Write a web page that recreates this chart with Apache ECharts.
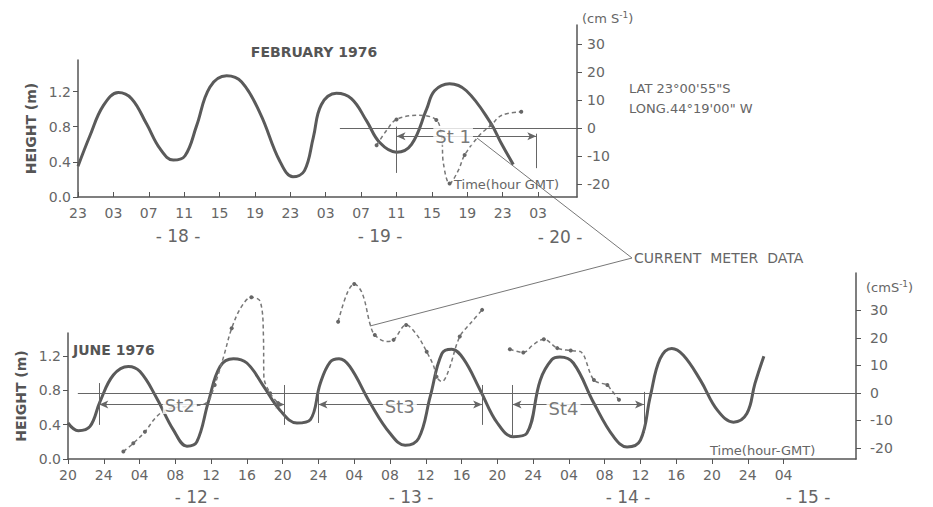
<!DOCTYPE html>
<html><head><meta charset="utf-8">
<script src="https://cdn.jsdelivr.net/npm/echarts@6/dist/echarts.min.js"></script>
<style>html,body{margin:0;padding:0;background:#fff}#c{width:933px;height:507px}</style>
</head><body><div id="c"></div>
<script>
// ---------- DATA (hours since first tick; heights in m; currents in cm/s) ----------
// February 1976 (hour 0 = 23h GMT on the 17th)
const febTickHours = [0,4,8,12,16,20,24,28,32,36,40,44,48,52];
const febTickLabels = ['23','03','07','11','15','19','23','03','07','11','15','19','23','03'];
const febTide = [[0,0.35],[1.36,0.70],[2.86,1.04],[4.56,1.19],[6.06,1.12],[7.76,0.83],[9.27,0.55],[10.77,0.42],[12.1,0.47],[13.4,0.81],[14.9,1.25],[16.8,1.38],[18.5,1.31],[20.6,0.95],[22.8,0.41],[24.3,0.23],[25.6,0.30],[26.6,0.68],[27.5,1.05],[29.2,1.18],[30.9,1.12],[32.6,0.87],[34.1,0.62],[36.0,0.51],[37.7,0.60],[39.4,1.00],[40.3,1.21],[42.0,1.29],[43.9,1.21],[46.6,0.85],[47.9,0.60],[49.2,0.37]];
const febCurrent = [[33.75,-6.1],[34.9,-0.7],[36.0,3.1],[38.5,4.6],[40.5,2.9],[41.1,-3.1],[41.3,-12.6],[42.0,-19.8],[43.0,-15],[43.7,-9.6],[45.4,-2.5],[46.7,1.1],[47.9,4.6],[50.1,5.8]];
const febCurrentDots = [0,2,4,7,9,11,13];
// June 1976 (hour 0 = 20h GMT on the 11th)
const junTickHours = [0,4,8,12,16,20,24,28,32,36,40,44,48,52,56,60,64,68,72,76,80];
const junTickLabels = ['20','24','04','08','12','16','20','24','04','08','12','16','20','24','04','08','12','16','20','24','04'];
const junTide = [[0,0.42],[1.15,0.33],[2.46,0.38],[3.58,0.67],[5.07,0.98],[6.75,1.08],[8.05,1.02],[9.92,0.71],[11.78,0.34],[13.3,0.15],[14.4,0.20],[15.7,0.67],[17.0,1.08],[18.5,1.17],[20.0,1.12],[21.8,0.86],[23.7,0.57],[25.6,0.42],[27.1,0.46],[28.2,0.88],[29.3,1.13],[30.3,1.17],[31.5,1.08],[33.8,0.65],[36.0,0.30],[37.7,0.16],[39.2,0.24],[40.5,0.73],[41.8,1.23],[42.9,1.28],[44.2,1.17],[46.1,0.80],[48.0,0.42],[49.8,0.26],[51.3,0.30],[52.8,0.92],[54.1,1.16],[55.0,1.19],[56.5,1.12],[58.8,0.65],[61.0,0.26],[62.5,0.14],[64.0,0.22],[65.1,0.73],[66.2,1.17],[67.5,1.29],[68.8,1.21],[70.7,0.92],[72.6,0.57],[74.4,0.43],[75.9,0.53],[76.8,0.88],[77.8,1.20]];
const st2Current = [[6.19,-21.3],[7.3,-18.3],[8.6,-14.1],[9.9,-8.6],[11.2,-5.8],[13.5,-4.8],[15.5,-3.5],[16.4,2.9],[17.4,13.2],[18.3,23.5],[19.4,31.4],[20.5,34.8],[21.5,33.2],[21.85,20.5],[21.9,5.9],[22.6,-0.1],[23.5,-3.7]];
const st2Dots = [0,1,2,7,9,11,15,16];
const st3Current = [[30.2,25.9],[31.2,36.2],[32.0,39.6],[32.9,36.2],[33.8,24.7],[34.3,21.1],[35.6,18.7],[36.4,19.3],[37.8,24.7],[39.0,21.1],[40.1,15.0],[40.9,9.6],[41.2,5.9],[41.8,4.1],[42.5,7.7],[43.8,20.5],[45.0,25.3],[46.3,30.2]];
const st3Dots = [0,2,5,7,8,10,12,15,17];
const st4Current = [[49.4,15.9],[50.9,14.7],[52.0,17.5],[53.2,19.5],[54.7,16.3],[56.2,15.4],[57.3,15.0],[58.8,4.7],[60.3,2.9],[60.6,1.7],[61.6,-2.5]];
const st4Dots = [0,1,3,4,5,7,8,10];
const heightTicks = [0,0.4,0.8,1.2];
const currentTicks = [-20,-10,0,10,20,30];
// station spans (hours) and annotation levels (cm/s)
const febZeroLine = [29.6, 56.4];
const st1Span = [36.0, 51.8]; const st1Level = -2.9;
const st1Bars = [[36.0, 0.5, -16], [51.8, -2, -14.3]];
const junZeroLine = [1.1, 88.1];
const junSpans = [[3.5, 24.2], [28.0, 46.3], [49.7, 64.4]]; const junLevel = -4.2;
const junBars = [[3.5,3.6,-11.6],[24.2,2.9,-11.6],[28.0,1.1,-10.9],[46.3,2.9,-11.6],[49.7,2.9,-16],[64.4,0.4,-14.5]];
const stationLabels = [['St 1',42.4,-2.9,0],['St2',12.5,-4.4,1],['St3',37.1,-5.0,1],['St4',55.4,-5.6,1]];

// ---------- STYLE ----------
const AX = '#555', TXT = '#666', TIDE = '#5a5a5a', CUR = '#777';
const FONT = '"DejaVu Sans", sans-serif';
const lbl = {color: TXT, fontFamily: FONT, fontSize: 14};

function xAx(grid, max, hours, labels, show, inside) {
  return {type:'value', gridIndex:grid, min:0, max:max, show:show,
    axisLine:{show:true, onZero:false, lineStyle:{color:AX, width:1.5}},
    axisTick:{show:true, inside:inside, length:5, customValues:hours, lineStyle:{color:AX}},
    axisLabel:Object.assign({customValues:hours, margin:9, formatter:v=>labels[hours.indexOf(v)]}, lbl),
    splitLine:{show:false}};
}
function hAx(grid, max) {
  return {type:'value', gridIndex:grid, min:0, max:max, position:'left',
    name:'HEIGHT (m)', nameLocation:'middle', nameGap:40,
    nameTextStyle:{color:'#555', fontFamily:FONT, fontWeight:'bold', fontSize:14},
    axisLine:{show:true, onZero:false, lineStyle:{color:AX, width:1.5}},
    axisTick:{show:true, length:5, customValues:heightTicks, lineStyle:{color:AX}},
    axisLabel:Object.assign({customValues:heightTicks, margin:7, formatter:v=>v.toFixed(1)}, lbl),
    splitLine:{show:false}};
}
function cAx(grid, min, max, margin) {
  return {type:'value', gridIndex:grid, min:min, max:max, position:'right',
    axisLine:{show:true, onZero:false, lineStyle:{color:AX, width:1.5}},
    axisTick:{show:true, length:5, customValues:currentTicks, lineStyle:{color:AX}},
    axisLabel:Object.assign({customValues:currentTicks, margin:margin, formatter:v=>String(v)}, lbl),
    splitLine:{show:false}};
}
function tideSeries(x, y, data) {
  return {type:'line', xAxisIndex:x, yAxisIndex:y, data:data, smooth:0.4, showSymbol:false,
    lineStyle:{color:TIDE, width:3}, silent:true, z:3};
}
function curSeries(x, y, data, dots) {
  return {type:'line', xAxisIndex:x, yAxisIndex:y, data:data, smooth:0.35,
    symbol:'circle', showSymbol:true,
    symbolSize:(v, p)=>dots.indexOf(p.dataIndex) >= 0 ? 4 : 0,
    itemStyle:{color:'#666'},
    lineStyle:{color:CUR, width:1.5, type:[4,3]}, silent:true, z:4};
}
const arrowEnd = {symbol:'arrow', symbolSize:[6,9]};
function annotLines(zero, spans, level, bars) {
  const d = [];
  d.push([{coord:[zero[0],0], symbol:'none'}, {coord:[zero[1],0], symbol:'none'}]);
  spans.forEach(s => d.push([Object.assign({coord:[s[0],level]}, arrowEnd), Object.assign({coord:[s[1],level]}, arrowEnd)]));
  bars.forEach(b => d.push([{coord:[b[0],b[1]], symbol:'none'}, {coord:[b[0],b[2]], symbol:'none'}]));
  return {symbol:'none', silent:true, animation:false, label:{show:false},
    lineStyle:{color:'#666', width:1, type:'solid'}, emphasis:{disabled:true}, data:d};
}

const febTopMax = 1.56, febCurMin = -24.6, febCurMax = 36.8;
const junTopMax = 1.47, junCurMin = -24, junCurMax = 43.6;
const febXMax = 56.4, junXMax = 88.1;

const s1 = curSeries(1, 1, febCurrent, febCurrentDots);
s1.markLine = annotLines(febZeroLine, [st1Span], st1Level, st1Bars);
const s2 = curSeries(3, 3, st2Current, st2Dots);
s2.markLine = annotLines(junZeroLine, junSpans, junLevel, junBars);

const labelSeries = [0,1].map(k => ({
  type:'scatter', xAxisIndex: k ? 3 : 1, yAxisIndex: k ? 3 : 1, symbolSize:0, silent:true, z:6,
  data: stationLabels.filter(s => s[3] === k).map(s => ({name:s[0], value:[s[1], s[2]]})),
  label:{show:true, position:'inside', formatter:p=>p.name, color:'#555', fontFamily:FONT,
    fontSize:18, backgroundColor:'#fff', padding:[0,2]}
}));

const g = (t, x, y, o) => Object.assign({type:'text', x:x, y:y, silent:true,
  style:Object.assign({text:t, fill:TXT, font:'14px ' + FONT, align:'left', verticalAlign:'middle'}, o || {})});
const unitRich = {a:{fontSize:13, fill:TXT, fontFamily:FONT}, s:{fontSize:9, fill:TXT, fontFamily:FONT, verticalAlign:'top', padding:[0,0,6,0]}};

const option = {
  animation:false, backgroundColor:'#ffffff',
  grid:[
    {left:78, right:356, top:60, bottom:310},
    {left:78, right:356, top:25, bottom:310},
    {left:68, right:77, top:333, bottom:48},
    {left:68, right:77, top:273, bottom:48}
  ],
  xAxis:[
    xAx(0, febXMax, febTickHours, febTickLabels, true, true),
    xAx(1, febXMax, febTickHours, febTickLabels, false, true),
    xAx(2, junXMax, junTickHours, junTickLabels, true, false),
    xAx(3, junXMax, junTickHours, junTickLabels, false, false)
  ],
  yAxis:[
    hAx(0, febTopMax),
    cAx(1, febCurMin, febCurMax, 10),
    hAx(2, junTopMax),
    cAx(3, junCurMin, junCurMax, 14)
  ],
  series:[
    tideSeries(0, 0, febTide),
    s1,
    tideSeries(2, 2, junTide),
    s2,
    curSeries(3, 3, st3Current, st3Dots),
    curSeries(3, 3, st4Current, st4Dots)
  ].concat(labelSeries),
  graphic:[
    {type:'polyline', silent:true, shape:{points:[[477,138],[632,258],[370,326]]}, style:{stroke:'#777', lineWidth:1, fill:null}},
    g('FEBRUARY 1976', 314, 52, {align:'center', font:'bold 14px ' + FONT, fill:'#555'}),
    g('JUNE 1976', 73, 350, {font:'bold 14px ' + FONT, fill:'#555'}),
    g('LAT 23°00\'55"S', 629, 88, {font:'13px ' + FONT}),
    g('LONG.44°19\'00" W', 629, 108, {font:'13px ' + FONT}),
    g('CURRENT  METER  DATA', 634, 258, {font:'14px ' + FONT}),
    g('Time(hour GMT)', 454, 184, {font:'13px ' + FONT}),
    g('Time(hour-GMT)', 710, 450, {font:'13px ' + FONT}),
    g('{a|(cm S}{s|-1}{a|)}', 582, 18, {rich:unitRich}),
    g('{a|(cmS}{s|-1}{a|)}', 866, 287, {rich:unitRich}),
    g('- 18 -', 178, 236, {align:'center', font:'17px ' + FONT}),
    g('- 19 -', 380, 236, {align:'center', font:'17px ' + FONT}),
    g('- 20 -', 560, 237, {align:'center', font:'17px ' + FONT}),
    g('- 12 -', 197, 497, {align:'center', font:'17px ' + FONT}),
    g('- 13 -', 411, 497, {align:'center', font:'17px ' + FONT}),
    g('- 14 -', 628, 497, {align:'center', font:'17px ' + FONT}),
    g('- 15 -', 808, 497, {align:'center', font:'17px ' + FONT})
  ]
};
const chart = echarts.init(document.getElementById('c'), null, {renderer:'svg'});
chart.setOption(option);
</script></body></html>
